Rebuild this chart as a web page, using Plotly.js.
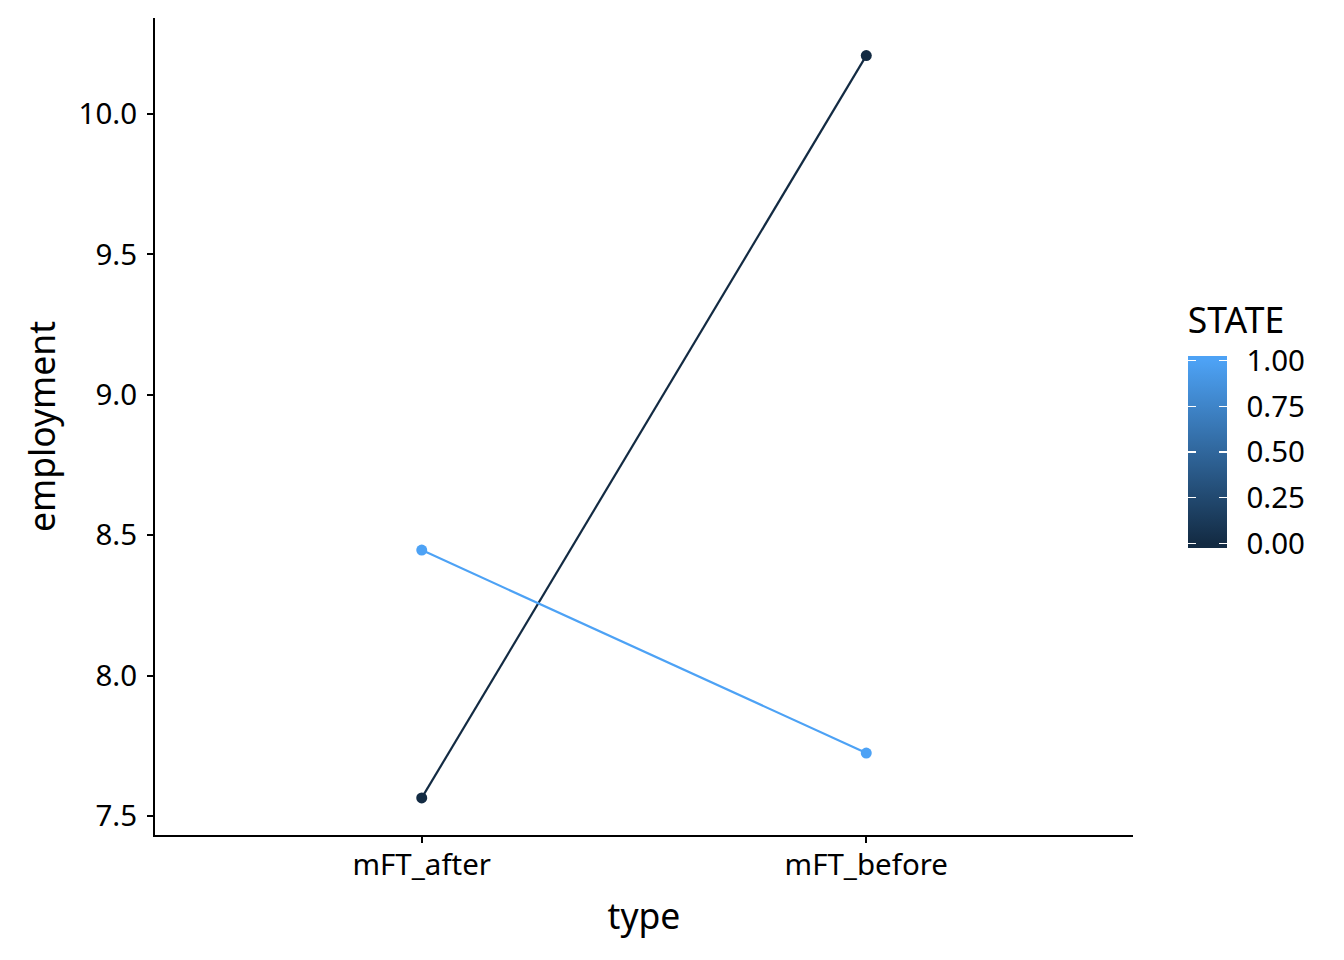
<!DOCTYPE html>
<html>
<head>
<meta charset="utf-8">
<script src="https://cdn.plot.ly/plotly-3.0.1.min.js"></script>
<style>body{margin:0;padding:0;background:#fff;} #chart{width:1344px;height:960px;}</style>
</head>
<body>
<div id="chart"></div>
<script>
const types = ['mFT_after', 'mFT_before'];
const state0 = [7.564, 10.208];
const state1 = [8.447, 7.724];
const stateTicks = [0, 0.25, 0.5, 0.75, 1];
const stateTickText = ['0.00', '0.25', '0.50', '0.75', '1.00'];
const yTicks = [7.5, 8.0, 8.5, 9.0, 9.5, 10.0];
const yTickText = ['7.5', '8.0', '8.5', '9.0', '9.5', '10.0'];

const lowColor = '#132B43', highColor = '#4DA2F5';
const font = 'Noto Sans, Open Sans, DejaVu Sans, sans-serif';
const tickSize = 29.5, titleSize = 35.5;

// colour bar extends slightly beyond the 0..1 range, like ggplot's bar
const ext = 0.0246;
const cmin = -ext, cmax = 1 + ext;
const e = ext / (1 + 2 * ext);
const cs = [[0, lowColor], [e, lowColor], [1 - e, highColor], [1, highColor]];
const clear = [[0, 'rgba(0,0,0,0)'], [1, 'rgba(0,0,0,0)']];

const cbX = 1.056, cbY0 = 0.3513, cbBar = 192, cbThick = 39;

function mk(y, s) {
  const col = s === 0 ? lowColor : highColor;
  return {
    x: types, y: y, type: 'scatter', mode: 'lines+markers',
    line: {color: col, width: 2.2},
    marker: {size: 11, color: [s, s], colorscale: cs, cmin: cmin, cmax: cmax, showscale: false},
    showlegend: false, hoverinfo: 'x+y'
  };
}

const mainCb = {
  title: {text: 'STATE', side: 'top', font: {size: titleSize, color: '#000', family: font}},
  x: cbX, xanchor: 'left', y: cbY0, yanchor: 'bottom',
  lenmode: 'pixels', len: 245, thicknessmode: 'pixels', thickness: cbThick,
  outlinewidth: 0, tickvals: stateTicks, ticktext: stateTickText,
  ticks: 'outside', ticklen: 14, tickcolor: 'rgba(255,255,255,0)', tickwidth: 1,
  tickfont: {size: tickSize, color: '#000', family: font},
  xpad: 0, ypad: 0
};

function tickBar(thick) {
  return {
    x: cbX, xanchor: 'left', y: cbY0, yanchor: 'bottom',
    lenmode: 'pixels', len: cbBar, thicknessmode: 'pixels', thickness: thick,
    outlinewidth: 0, tickvals: stateTicks, showticklabels: false,
    ticks: 'inside', ticklen: 8, tickcolor: '#ffffff', tickwidth: 1.2,
    xpad: 0, ypad: 0
  };
}

function scaleTrace(colorscale, cb) {
  return {
    x: types, y: state1, type: 'scatter', mode: 'markers',
    marker: {size: 1, opacity: 0, color: [0, 1], colorscale: colorscale, cmin: cmin, cmax: cmax,
             showscale: true, colorbar: cb},
    showlegend: false, hoverinfo: 'skip'
  };
}

const data = [
  scaleTrace(cs, mainCb),
  scaleTrace(clear, tickBar(cbThick)),
  scaleTrace(clear, tickBar(8)),
  mk(state0, 0),
  mk(state1, 1)
];

const layout = {
  width: 1344, height: 960,
  margin: {l: 155, r: 211, t: 18, b: 125},
  paper_bgcolor: '#fff', plot_bgcolor: '#fff',
  font: {family: font, color: '#000'},
  xaxis: {
    type: 'category', categoryorder: 'array', categoryarray: types,
    range: [-0.6, 1.6], showgrid: false, zeroline: false,
    showline: true, linecolor: '#000', linewidth: 2,
    ticks: 'outside', ticklen: 6, tickwidth: 2, tickcolor: '#000',
    ticklabelstandoff: -3,
    tickfont: {size: tickSize, color: '#000'},
    title: {text: 'type', font: {size: titleSize, color: '#000'}, standoff: 21}
  },
  yaxis: {
    range: [7.432, 10.342], showgrid: false, zeroline: false,
    showline: true, linecolor: '#000', linewidth: 2,
    ticks: 'outside', ticklen: 6, tickwidth: 2, tickcolor: '#000',
    ticklabelstandoff: 4,
    tickvals: yTicks, ticktext: yTickText,
    tickfont: {size: tickSize, color: '#000'},
    title: {text: 'employment', font: {size: titleSize, color: '#000'}, standoff: 12}
  }
};

Plotly.newPlot('chart', data, layout, {staticPlot: true, displayModeBar: false});
</script>
</body>
</html>
